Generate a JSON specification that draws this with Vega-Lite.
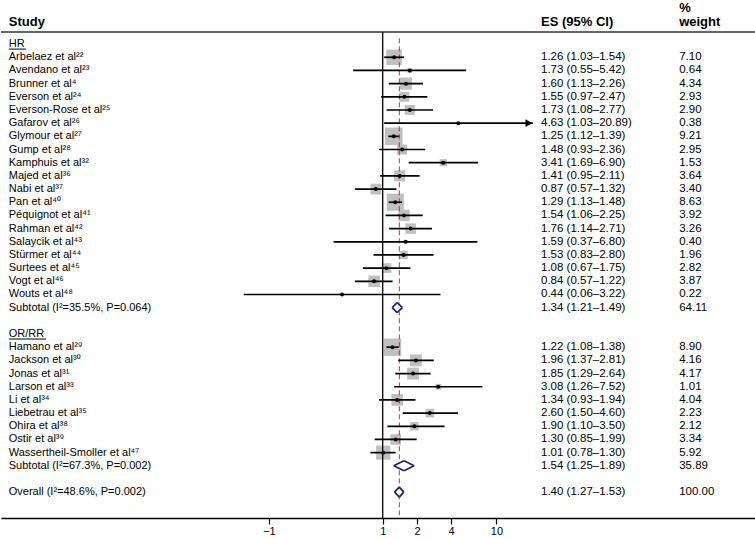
{
  "$schema": "https://vega.github.io/schema/vega-lite/v6.json",
  "width": 755,
  "height": 518,
  "padding": 0,
  "config": {
    "view": {"stroke": null},
    "font": "Liberation Sans, Noto Sans",
    "axisX": {"grid": false, "domainColor": "#000000", "domainWidth": 1.3, "tickColor": "#000000", "tickWidth": 1.2, "tickSize": 6,
      "labelFontSize": 11, "labelColor": "#000000", "labelPadding": 1, "labelFont": "Liberation Sans", "labelFlush": false, "labelOverlap": false, "title": null}
  },
  "resolve": {"scale": {"size": "independent"}},
  "datasets": {
    "rows": [
      {"row": 0, "label": "HR", "type": "head"},
      {"row": 1, "label": "Arbelaez et al²²", "type": "study", "es": 1.26, "lo": 1.03, "hi": 1.54, "w": 7.10, "ci": "1.26 (1.03–1.54)"},
      {"row": 2, "label": "Avendano et al²³", "type": "study", "es": 1.73, "lo": 0.55, "hi": 5.42, "w": 0.64, "ci": "1.73 (0.55–5.42)"},
      {"row": 3, "label": "Brunner et al⁴", "type": "study", "es": 1.60, "lo": 1.13, "hi": 2.26, "w": 4.34, "ci": "1.60 (1.13–2.26)"},
      {"row": 4, "label": "Everson et al²⁴", "type": "study", "es": 1.55, "lo": 0.97, "hi": 2.47, "w": 2.93, "ci": "1.55 (0.97–2.47)"},
      {"row": 5, "label": "Everson-Rose et al²⁵", "type": "study", "es": 1.73, "lo": 1.08, "hi": 2.77, "w": 2.90, "ci": "1.73 (1.08–2.77)"},
      {"row": 6, "label": "Gafarov et al²⁶", "type": "study", "es": 4.63, "lo": 1.03, "hi": 20.89, "w": 0.38, "ci": "4.63 (1.03–20.89)"},
      {"row": 7, "label": "Glymour et al²⁷", "type": "study", "es": 1.25, "lo": 1.12, "hi": 1.39, "w": 9.21, "ci": "1.25 (1.12–1.39)"},
      {"row": 8, "label": "Gump et al²⁸", "type": "study", "es": 1.48, "lo": 0.93, "hi": 2.36, "w": 2.95, "ci": "1.48 (0.93–2.36)"},
      {"row": 9, "label": "Kamphuis et al³²", "type": "study", "es": 3.41, "lo": 1.69, "hi": 6.90, "w": 1.53, "ci": "3.41 (1.69–6.90)"},
      {"row": 10, "label": "Majed et al³⁶", "type": "study", "es": 1.41, "lo": 0.95, "hi": 2.11, "w": 3.64, "ci": "1.41 (0.95–2.11)"},
      {"row": 11, "label": "Nabi et al³⁷", "type": "study", "es": 0.87, "lo": 0.57, "hi": 1.32, "w": 3.40, "ci": "0.87 (0.57–1.32)"},
      {"row": 12, "label": "Pan et al⁴⁰", "type": "study", "es": 1.29, "lo": 1.13, "hi": 1.48, "w": 8.63, "ci": "1.29 (1.13–1.48)"},
      {"row": 13, "label": "Péquignot et al⁴¹", "type": "study", "es": 1.54, "lo": 1.06, "hi": 2.25, "w": 3.92, "ci": "1.54 (1.06–2.25)"},
      {"row": 14, "label": "Rahman et al⁴²", "type": "study", "es": 1.76, "lo": 1.14, "hi": 2.71, "w": 3.26, "ci": "1.76 (1.14–2.71)"},
      {"row": 15, "label": "Salaycik et al⁴³", "type": "study", "es": 1.59, "lo": 0.37, "hi": 6.80, "w": 0.40, "ci": "1.59 (0.37–6.80)"},
      {"row": 16, "label": "Stürmer et al⁴⁴", "type": "study", "es": 1.53, "lo": 0.83, "hi": 2.80, "w": 1.96, "ci": "1.53 (0.83–2.80)"},
      {"row": 17, "label": "Surtees et al⁴⁵", "type": "study", "es": 1.08, "lo": 0.67, "hi": 1.75, "w": 2.82, "ci": "1.08 (0.67–1.75)"},
      {"row": 18, "label": "Vogt et al⁴⁶", "type": "study", "es": 0.84, "lo": 0.57, "hi": 1.22, "w": 3.87, "ci": "0.84 (0.57–1.22)"},
      {"row": 19, "label": "Wouts et al⁴⁸", "type": "study", "es": 0.44, "lo": 0.06, "hi": 3.22, "w": 0.22, "ci": "0.44 (0.06–3.22)"},
      {"row": 20, "label": "Subtotal (I²=35.5%, P=0.064)", "type": "sub", "es": 1.34, "lo": 1.21, "hi": 1.49, "w": 64.11, "ci": "1.34 (1.21–1.49)"},
      {"row": 22, "label": "OR/RR", "type": "head"},
      {"row": 23, "label": "Hamano et al²⁹", "type": "study", "es": 1.22, "lo": 1.08, "hi": 1.38, "w": 8.90, "ci": "1.22 (1.08–1.38)"},
      {"row": 24, "label": "Jackson et al³⁰", "type": "study", "es": 1.96, "lo": 1.37, "hi": 2.81, "w": 4.16, "ci": "1.96 (1.37–2.81)"},
      {"row": 25, "label": "Jonas et al³¹", "type": "study", "es": 1.85, "lo": 1.29, "hi": 2.64, "w": 4.17, "ci": "1.85 (1.29–2.64)"},
      {"row": 26, "label": "Larson et al³³", "type": "study", "es": 3.08, "lo": 1.26, "hi": 7.52, "w": 1.01, "ci": "3.08 (1.26–7.52)"},
      {"row": 27, "label": "Li et al³⁴", "type": "study", "es": 1.34, "lo": 0.93, "hi": 1.94, "w": 4.04, "ci": "1.34 (0.93–1.94)"},
      {"row": 28, "label": "Liebetrau et al³⁵", "type": "study", "es": 2.60, "lo": 1.50, "hi": 4.60, "w": 2.23, "ci": "2.60 (1.50–4.60)"},
      {"row": 29, "label": "Ohira et al³⁸", "type": "study", "es": 1.90, "lo": 1.10, "hi": 3.50, "w": 2.12, "ci": "1.90 (1.10–3.50)"},
      {"row": 30, "label": "Ostir et al³⁹", "type": "study", "es": 1.30, "lo": 0.85, "hi": 1.99, "w": 3.34, "ci": "1.30 (0.85–1.99)"},
      {"row": 31, "label": "Wassertheil-Smoller et al⁴⁷", "type": "study", "es": 1.01, "lo": 0.78, "hi": 1.30, "w": 5.92, "ci": "1.01 (0.78–1.30)"},
      {"row": 32, "label": "Subtotal (I²=67.3%, P=0.002)", "type": "sub", "es": 1.54, "lo": 1.25, "hi": 1.89, "w": 35.89, "ci": "1.54 (1.25–1.89)"},
      {"row": 34, "label": "Overall (I²=48.6%, P=0.002)", "type": "sub", "es": 1.40, "lo": 1.27, "hi": 1.53, "w": 100.00, "ci": "1.40 (1.27–1.53)"}
    ]
  },
  "layer": [
    {
      "data": {"name": "rows"},
      "transform": [{"filter": "datum.type == 'study'"}],
      "mark": {"type": "square", "color": "#c0c0c0", "opacity": 1},
      "encoding": {
        "x": {"field": "es", "type": "quantitative", "title": null,
          "scale": {"type": "log", "domain": [0.00044089, 1913.6], "nice": false, "zero": false},
          "axis": {"values": [0.1, 1, 2, 4, 10], "labelExpr": "datum.value < 0.5 ? '−1' : format(datum.value, 'd')", "title": null}},
        "y": {"field": "row", "type": "quantitative", "axis": null, "scale": {"domain": [-3.346, 35.96], "reverse": true, "nice": false, "zero": false}},
        "size": {"field": "w", "type": "quantitative", "scale": {"type": "linear", "domain": [0, 10], "range": [0, 340], "zero": true}, "legend": null}
      }
    },
    {
      "data": {"values": [{}]},
      "mark": {"type": "rule", "color": "#333333", "strokeWidth": 1.5},
      "encoding": {"y": {"datum": -0.918, "type": "quantitative", "axis": null}}
    },
    {
      "data": {"values": [{}]},
      "mark": {"type": "rule", "color": "#000000", "strokeWidth": 1.3},
      "encoding": {"x": {"datum": 1, "type": "quantitative", "title": null}, "y": {"datum": -0.918, "type": "quantitative", "axis": null}, "y2": {"datum": 35.96}}
    },
    {
      "data": {"values": [{}]},
      "mark": {"type": "rule", "color": "#a03c3c", "strokeWidth": 1, "strokeDash": [5, 3]},
      "encoding": {"x": {"datum": 1.40, "type": "quantitative", "title": null}, "y": {"datum": -0.44, "type": "quantitative", "axis": null}, "y2": {"datum": 35.96}}
    },
    {
      "data": {"name": "rows"},
      "transform": [{"filter": "datum.type == 'study'"}],
      "mark": {"type": "rule", "color": "#000000", "strokeWidth": 1.7},
      "encoding": {
        "x": {"field": "lo", "type": "quantitative", "title": null},
        "x2": {"field": "hi"},
        "y": {"field": "row", "type": "quantitative", "axis": null}
      }
    },
    {
      "data": {"name": "rows"},
      "transform": [{"filter": "datum.type == 'study'"}],
      "mark": {"type": "point", "filled": true, "color": "#000000", "size": 16, "opacity": 1},
      "encoding": {
        "x": {"field": "es", "type": "quantitative", "title": null},
        "y": {"field": "row", "type": "quantitative", "axis": null}
      }
    },
    {
      "data": {"name": "rows"},
      "transform": [{"filter": "datum.type == 'study' && datum.hi > 20"}],
      "mark": {"type": "point", "shape": "triangle-right", "filled": true, "color": "#000000", "size": 60, "opacity": 1, "xOffset": -4},
      "encoding": {
        "x": {"field": "hi", "type": "quantitative", "title": null},
        "y": {"field": "row", "type": "quantitative", "axis": null}
      }
    },
    {
      "data": {"name": "rows"},
      "transform": [{"filter": "datum.type == 'sub'"}, {"fold": ["lo", "es", "hi"], "as": ["k", "v"]}],
      "mark": {"type": "trail", "color": "#ffffff", "opacity": 1},
      "encoding": {
        "x": {"field": "v", "type": "quantitative", "title": null},
        "y": {"field": "row", "type": "quantitative", "axis": null},
        "detail": {"field": "row", "type": "nominal"},
        "size": {"field": "k", "type": "nominal", "scale": {"type": "ordinal", "domain": ["lo", "es", "hi"], "range": [0, 10, 0]}, "legend": null}
      }
    },
    {
      "data": {"name": "rows"},
      "transform": [{"filter": "datum.type == 'sub'"}],
      "mark": {"type": "rule", "color": "#222270", "strokeWidth": 1.8, "y2Offset": -5},
      "encoding": {"x": {"field": "lo", "type": "quantitative", "title": null}, "x2": {"field": "es"}, "y": {"field": "row", "type": "quantitative", "axis": null}, "y2": {"field": "row"}}
    },
    {
      "data": {"name": "rows"},
      "transform": [{"filter": "datum.type == 'sub'"}],
      "mark": {"type": "rule", "color": "#222270", "strokeWidth": 1.8, "y2Offset": 5},
      "encoding": {"x": {"field": "lo", "type": "quantitative", "title": null}, "x2": {"field": "es"}, "y": {"field": "row", "type": "quantitative", "axis": null}, "y2": {"field": "row"}}
    },
    {
      "data": {"name": "rows"},
      "transform": [{"filter": "datum.type == 'sub'"}],
      "mark": {"type": "rule", "color": "#222270", "strokeWidth": 1.8, "yOffset": -5},
      "encoding": {"x": {"field": "es", "type": "quantitative", "title": null}, "x2": {"field": "hi"}, "y": {"field": "row", "type": "quantitative", "axis": null}, "y2": {"field": "row"}}
    },
    {
      "data": {"name": "rows"},
      "transform": [{"filter": "datum.type == 'sub'"}],
      "mark": {"type": "rule", "color": "#222270", "strokeWidth": 1.8, "yOffset": 5},
      "encoding": {"x": {"field": "es", "type": "quantitative", "title": null}, "x2": {"field": "hi"}, "y": {"field": "row", "type": "quantitative", "axis": null}, "y2": {"field": "row"}}
    },
    {
      "data": {"name": "rows"},
      "mark": {"type": "text", "align": "left", "baseline": "middle", "fontSize": 11, "font": "Liberation Sans, Noto Sans", "color": "#000000"},
      "encoding": {
        "x": {"datum": 0.000516, "type": "quantitative", "title": null},
        "y": {"field": "row", "type": "quantitative", "axis": null},
        "text": {"field": "label"}
      }
    },
    {
      "data": {"values": [{}]},
      "mark": {"type": "rule", "color": "#000000", "strokeWidth": 1, "yOffset": 5},
      "encoding": {"x": {"datum": 0.000516, "type": "quantitative", "title": null}, "x2": {"datum": 0.000731}, "y": {"datum": 0, "type": "quantitative", "axis": null}}
    },
    {
      "data": {"values": [{}]},
      "mark": {"type": "rule", "color": "#000000", "strokeWidth": 1, "yOffset": 5},
      "encoding": {"x": {"datum": 0.000516, "type": "quantitative", "title": null}, "x2": {"datum": 0.001096}, "y": {"datum": 22, "type": "quantitative", "axis": null}}
    },
    {
      "data": {"name": "rows"},
      "transform": [{"filter": "datum.type != 'head'"}],
      "mark": {"type": "text", "align": "left", "baseline": "middle", "fontSize": 11.5, "font": "Liberation Sans", "color": "#000000"},
      "encoding": {
        "x": {"datum": 24.64, "type": "quantitative", "title": null},
        "y": {"field": "row", "type": "quantitative", "axis": null},
        "text": {"field": "ci"}
      }
    },
    {
      "data": {"name": "rows"},
      "transform": [{"filter": "datum.type != 'head'"}],
      "mark": {"type": "text", "align": "left", "baseline": "middle", "fontSize": 11.5, "font": "Liberation Sans", "color": "#000000"},
      "encoding": {
        "x": {"datum": 403.9, "type": "quantitative", "title": null},
        "y": {"field": "row", "type": "quantitative", "axis": null},
        "text": {"field": "w", "type": "quantitative", "format": ".2f"}
      }
    },
    {
      "data": {"values": [{"t": "Study"}]},
      "mark": {"type": "text", "align": "left", "baseline": "alphabetic", "fontSize": 13, "fontWeight": "bold", "font": "Liberation Sans", "color": "#000000"},
      "encoding": {"x": {"datum": 0.000516, "type": "quantitative", "title": null}, "y": {"datum": -1.41, "type": "quantitative", "axis": null}, "text": {"field": "t"}}
    },
    {
      "data": {"values": [{"t": "ES (95% CI)"}]},
      "mark": {"type": "text", "align": "left", "baseline": "alphabetic", "fontSize": 13, "fontWeight": "bold", "font": "Liberation Sans", "color": "#000000"},
      "encoding": {"x": {"datum": 24.64, "type": "quantitative", "title": null}, "y": {"datum": -1.41, "type": "quantitative", "axis": null}, "text": {"field": "t"}}
    },
    {
      "data": {"values": [{"t": "weight"}]},
      "mark": {"type": "text", "align": "left", "baseline": "alphabetic", "fontSize": 13, "fontWeight": "bold", "font": "Liberation Sans", "color": "#000000"},
      "encoding": {"x": {"datum": 403.9, "type": "quantitative", "title": null}, "y": {"datum": -1.41, "type": "quantitative", "axis": null}, "text": {"field": "t"}}
    },
    {
      "data": {"values": [{"t": "%"}]},
      "mark": {"type": "text", "align": "left", "baseline": "alphabetic", "fontSize": 13, "fontWeight": "bold", "font": "Liberation Sans", "color": "#000000"},
      "encoding": {"x": {"datum": 403.9, "type": "quantitative", "title": null}, "y": {"datum": -2.45, "type": "quantitative", "axis": null}, "text": {"field": "t"}}
    }
  ]
}
